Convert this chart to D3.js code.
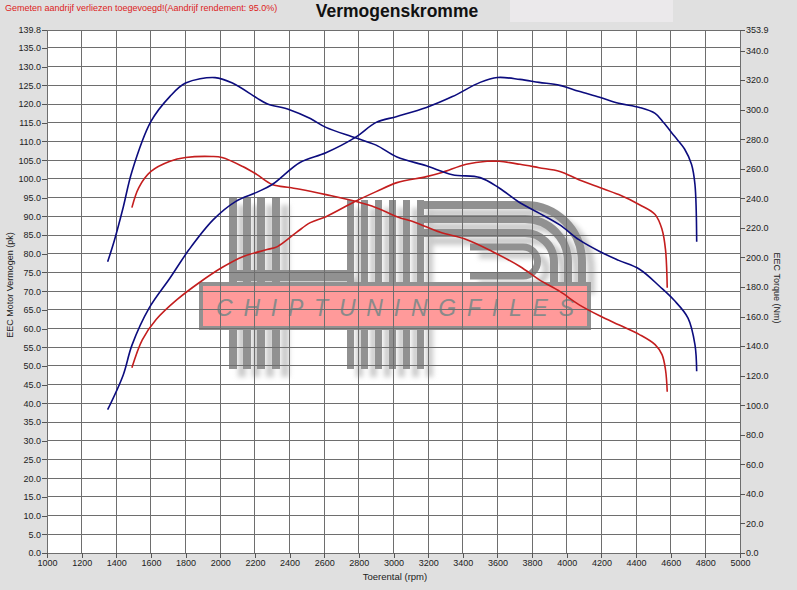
<!DOCTYPE html>
<html>
<head>
<meta charset="utf-8">
<script src="https://cdn.jsdelivr.net/npm/d3@7"></script>
<style>
  body { margin:0; background:#e0e0e0; }
  svg { display:block; font-family: Arial, "Liberation Sans", sans-serif; }
</style>
</head>
<body>
<div id="chart"></div>
<script>
// tuned (blue) and stock (red) dyno curves
var tunedPowerRpm = [1350,1440,1490,1590,1710,1820,1960,2090,2210,2300,2460,2610,2780,2900,3020,3190,3340,3500,3600,3730,3840,3960,4070,4190,4300,4420,4510,4560,4620,4680,4720,4740,4750];
var tunedPower    = [38.3,47.6,55.5,65.5,73.5,81.1,89.1,94,96.4,98.5,104.4,107,111.1,115.1,116.7,119.1,122,125.8,127.1,126.6,125.8,125,123.4,121.8,120.2,119.1,117.5,115,111.5,108,103.9,98.5,83.2];

var tunedTorqueRpm = [1350,1390,1440,1490,1600,1710,1800,1970,2070,2210,2270,2400,2520,2610,2780,2900,3020,3190,3340,3500,3610,3730,3840,3960,4070,4190,4300,4420,4540,4620,4700,4740,4750];
var tunedTorque    = [197,212,234,258,292,309,318,321.7,318,308,304,300,294,288,281,276,268,262,256,254,247,237,230,222,212,204,198,192,180,171,159,141,123];

var stockPowerRpm = [1490,1550,1630,1750,1880,2010,2130,2270,2330,2440,2520,2610,2780,2900,3020,3190,3280,3420,3540,3610,3730,3840,3960,4070,4190,4300,4420,4510,4550,4570,4580];
var stockPower    = [49.5,57,62.4,67.7,72.3,76.3,79.2,81.1,81.9,85.7,88.3,89.9,94,96.6,99,100.6,101.7,103.9,104.7,104.7,103.9,103,102,99.8,97.7,95.8,93.1,90.5,86.5,81.1,70.9];

var stockTorqueRpm = [1490,1530,1600,1710,1800,1950,2010,2130,2210,2300,2400,2460,2610,2780,2900,3020,3130,3270,3420,3570,3730,3840,3960,4070,4190,4300,4420,4510,4550,4570,4580];
var stockTorque    = [233.7,247.3,258.2,265.1,267.6,268.3,267.6,261.5,256.2,249.4,247.3,246.1,242.5,238,233.7,227.6,223.5,217,212.1,204,193.9,185,177,168.1,160.5,154.4,147.8,141,134.2,124,109.1];

var rpmTicks    = d3.range(1000, 5001, 200);
var powerTicks  = d3.range(0, 136, 5).concat([139.8]);
var torqueTicks = d3.range(0, 341, 20).concat([353.9]);

var W = 797, H = 590;
var m = {top:30, right:57, bottom:37, left:47};
var pw = W - m.left - m.right, ph = H - m.top - m.bottom;

var svg = d3.select("#chart").append("svg").attr("width", W).attr("height", H);

svg.append("rect").attr("width", W).attr("height", H).attr("fill", "#e0e0e0");
svg.append("rect").attr("x",510).attr("y",0).attr("width",163).attr("height",22).attr("fill","#ebe9eb");

svg.append("text").attr("x",5).attr("y",10.5)
    .style("font-size","9px").style("fill","#dd2222")
    .text("Gemeten aandrijf verliezen toegevoegd!(Aandrijf rendement: 95.0%)");

svg.append("text").attr("x",397).attr("y",17).attr("text-anchor","middle")
    .style("font-size","17.5px").style("font-weight","bold").style("fill","#111")
    .text("Vermogenskromme");

var x  = d3.scaleLinear().domain([1000,5000]).range([0, pw]);
var yL = d3.scaleLinear().domain([0,139.8]).range([ph, 0]);
var yR = d3.scaleLinear().domain([0,353.9]).range([ph, 0]);

var g = svg.append("g").attr("transform","translate("+m.left+","+m.top+")");
g.append("rect").attr("width",pw).attr("height",ph).attr("fill","#fff");

// watermark logo (behind grid and curves)
var defs = svg.append("defs");
defs.append("filter").attr("id","blur").append("feGaussianBlur").attr("stdDeviation",2.5);

var wm = g.append("g").attr("transform","translate("+(-m.left)+","+(-m.top)+")");
function logo(sel, col){
    [229,243,257,272].forEach(function(sx){
        sel.append("rect").attr("x",sx).attr("y",197).attr("width",8).attr("height",172).attr("fill",col);
    });
    [347,361,375,389,403,417].forEach(function(sx){
        sel.append("rect").attr("x",sx).attr("y",200).attr("width",7).attr("height",169).attr("fill",col);
    });
    sel.append("rect").attr("x",229).attr("y",270).attr("width",124).attr("height",11).attr("fill",col);
    [0,1,2].forEach(function(i){
        var y0 = 205 + i*14, r = 57 - i*14;
        sel.append("path")
            .attr("d","M417,"+y0+"H525A"+r+","+r+" 0 0 1 "+(525+r)+","+(y0+r)+"V286")
            .attr("fill","none").attr("stroke",col).attr("stroke-width",8);
    });
    sel.append("path").attr("d","M470,247H523A14,14 0 0 1 523,276H470")
        .attr("fill","none").attr("stroke",col).attr("stroke-width",7);
}
logo(wm.append("g").attr("transform","translate(9,8)").attr("filter","url(#blur)"), "#cacaca");
logo(wm.append("g"), "#919191");
wm.append("rect").attr("x",201).attr("y",284).attr("width",388).attr("height",44)
    .attr("fill","#ff9a9a").attr("stroke","#919191").attr("stroke-width",4);
wm.append("text").attr("x",216).attr("y",316).attr("textLength",358).attr("lengthAdjust","spacing")
    .style("font-size","23px").style("font-style","italic").style("fill","#8a8a8a")
    .text("CHIPTUNINGFILES");

// grid
var grid = g.append("g").attr("stroke","#6e6e6e").attr("stroke-width",1).attr("shape-rendering","crispEdges");
grid.selectAll("line.v").data(rpmTicks).enter().append("line")
    .attr("x1",function(d){return x(d);}).attr("x2",function(d){return x(d);})
    .attr("y1",0).attr("y2",ph);
grid.selectAll("line.h").data(powerTicks).enter().append("line")
    .attr("y1",function(d){return yL(d);}).attr("y2",function(d){return yL(d);})
    .attr("x1",0).attr("x2",pw);

// axes
function styleAxis(sel){
    sel.select(".domain").remove();
    sel.selectAll("line").attr("stroke","#555").attr("shape-rendering","crispEdges");
    sel.selectAll("text").style("font-size","9px").style("fill","#222").style("font-family","Arial, 'Liberation Sans', sans-serif");
}
g.append("g").call(d3.axisLeft(yL).tickValues(powerTicks).tickFormat(d3.format(".1f")).tickSize(5).tickPadding(1)).call(styleAxis);
g.append("g").attr("transform","translate("+pw+",0)")
    .call(d3.axisRight(yR).tickValues(torqueTicks).tickFormat(d3.format(".1f")).tickSize(5).tickPadding(1)).call(styleAxis);
g.append("g").attr("transform","translate(0,"+ph+")")
    .call(d3.axisBottom(x).tickValues(rpmTicks).tickFormat(d3.format("d")).tickSize(5).tickPadding(2)).call(styleAxis);

svg.append("text").attr("x",395).attr("y",580).attr("text-anchor","middle")
    .style("font-size","9.5px").style("fill","#222").text("Toerental (rpm)");
svg.append("text").attr("transform","translate(13,285) rotate(-90)").attr("text-anchor","middle")
    .style("font-size","9px").style("fill","#222").text("EEC Motor Vermogen (pk)");
svg.append("text").attr("transform","translate(774,288) rotate(90)").attr("text-anchor","middle")
    .style("font-size","9px").style("fill","#222").text("EEC Torque (Nm)");

// curves
function series(rpms, vals){ return rpms.map(function(r,i){return [r, vals[i]];}); }
var lineL = d3.line().x(function(d){return x(d[0]);}).y(function(d){return yL(d[1]);}).curve(d3.curveCatmullRom.alpha(0.5));
var lineR = d3.line().x(function(d){return x(d[0]);}).y(function(d){return yR(d[1]);}).curve(d3.curveCatmullRom.alpha(0.5));

var curves = [
    {data:series(stockPowerRpm, stockPower), line:lineL, color:"#c41e1e"},
    {data:series(stockTorqueRpm, stockTorque), line:lineR, color:"#c41e1e"},
    {data:series(tunedPowerRpm, tunedPower), line:lineL, color:"#0c0c7e"},
    {data:series(tunedTorqueRpm, tunedTorque), line:lineR, color:"#0c0c7e"}
];
curves.forEach(function(c){
    g.append("path").attr("d", c.line(c.data))
        .attr("fill","none").attr("stroke",c.color).attr("stroke-width",1.6);
});
</script>
</body>
</html>
